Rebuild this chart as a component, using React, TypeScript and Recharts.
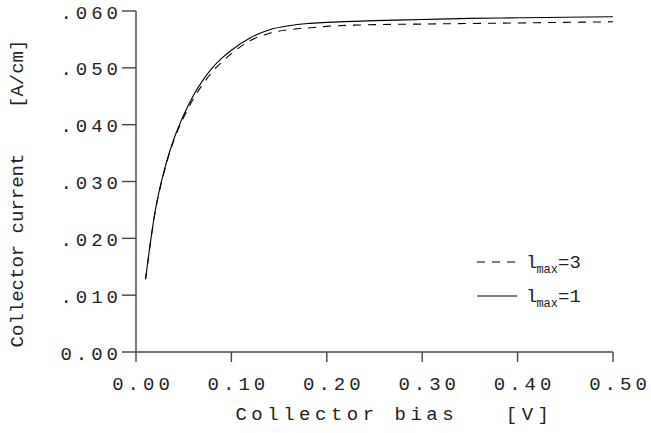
import React from "react";
import { LineChart, Line, XAxis, YAxis, Label, Customized } from "recharts";

// collector bias [V]
const bias = [0.01, 0.02, 0.03, 0.04, 0.05, 0.06, 0.07, 0.08, 0.09, 0.10, 0.12, 0.14, 0.16, 0.18, 0.20, 0.25, 0.30, 0.35, 0.40, 0.45, 0.50];
// collector current [A/cm], lmax = 1 (solid)
const lmax1 = [0.0128, 0.0247, 0.0322, 0.0376, 0.0417, 0.0451, 0.0478, 0.0500, 0.0517, 0.0531, 0.0553, 0.0567, 0.0574, 0.0578, 0.0580, 0.0583, 0.0585, 0.0587, 0.0588, 0.0589, 0.0590];
// lmax = 3 (dashed)
const lmax3 = [0.0128, 0.0246, 0.0320, 0.0374, 0.0413, 0.0445, 0.0471, 0.0493, 0.0510, 0.0525, 0.0548, 0.0561, 0.0567, 0.0570, 0.0573, 0.0576, 0.0577, 0.0578, 0.0579, 0.0580, 0.0581];

const xTicks = [0, 0.1, 0.2, 0.3, 0.4, 0.5];
const yTicks = [0, 0.01, 0.02, 0.03, 0.04, 0.05, 0.06];

const data = bias.map((b, i) => ({ bias: b, l1: lmax1[i], l3: lmax3[i] }));

const FONT = "'Liberation Mono', 'DejaVu Sans Mono', monospace";
const INK = "#222";
const AXIS = "#444";

const fmtY = (v: number) => (v === 0 ? "0.00" : "." + v.toFixed(3).slice(2));

const XTick = (p: any) => (
  <text x={p.x + 7} y={p.y} dy="0.71em" textAnchor="middle" fontFamily={FONT} fontSize={19}
    letterSpacing={4} fill={INK}>
    {p.payload.value.toFixed(2)}
  </text>
);

const YTick = (p: any) => (
  <text x={p.x + 4} y={p.y} dy="0.4em" textAnchor="end" fontFamily={FONT} fontSize={19}
    letterSpacing={4} fill={INK}>
    {fmtY(p.payload.value)}
  </text>
);

const entries = [
  { sub: "3", dash: "8 7" },
  { sub: "1", dash: undefined },
];

const LegendBox = () => (
  <g transform="translate(470, 245)">
    {entries.map((e, i) => (
      <g key={i} transform={`translate(0, ${i * 34})`}>
        <line x1={7} x2={47} y1={17} y2={17} stroke="#000" strokeWidth={1.1} strokeDasharray={e.dash} />
        <text x={56} y={23} fontFamily={FONT} fontSize={19} fill={INK}>
          l
          <tspan fontSize={12} dy={5} dx={-1}>max</tspan>
          <tspan fontSize={19} dy={-5}>={e.sub}</tspan>
        </text>
      </g>
    ))}
  </g>
);

export default function App() {
  return (
    <div style={{ position: "absolute", left: 0, top: 0, background: "#fff" }}>
      <LineChart width={651} height={433} data={data} margin={{ top: 11, right: 38, left: 0, bottom: 0 }}>
        <XAxis dataKey="bias" type="number" domain={[0, 0.5]} ticks={xTicks} height={81}
          tickSize={10} tickMargin={15} tick={<XTick />} stroke={AXIS} strokeWidth={1.4}>
          <Label content={(p: any) => (
            <text x={p.viewBox.x + p.viewBox.width / 2 + 20} y={p.viewBox.y + 68} textAnchor="middle"
              fontFamily={FONT} fontSize={19} letterSpacing={4.5} fill={INK} style={{ whiteSpace: "pre" }}>
              {"Collector bias   [V]"}
            </text>
          )} />
        </XAxis>
        <YAxis type="number" domain={[0, 0.06]} ticks={yTicks} width={136}
          tickSize={14} tickMargin={4} tick={<YTick />} stroke={AXIS} strokeWidth={1.4}>
          <Label content={(p: any) => {
            const cx = 23;
            const cy = p.viewBox.y + p.viewBox.height / 2 + 12;
            return (
              <text x={cx} y={cy} transform={`rotate(-90, ${cx}, ${cy})`} textAnchor="middle"
                fontFamily={FONT} fontSize={19} fill={INK} style={{ whiteSpace: "pre" }}>
                {"Collector current    [A/cm]"}
              </text>
            );
          }} />
        </YAxis>
        <Customized component={<LegendBox />} />
        <Line dataKey="l3" type="monotone" stroke="#000" strokeWidth={1.1} strokeDasharray="8 7" dot={false} isAnimationActive={false} />
        <Line dataKey="l1" type="monotone" stroke="#000" strokeWidth={1.1} dot={false} isAnimationActive={false} />
      </LineChart>
    </div>
  );
}
